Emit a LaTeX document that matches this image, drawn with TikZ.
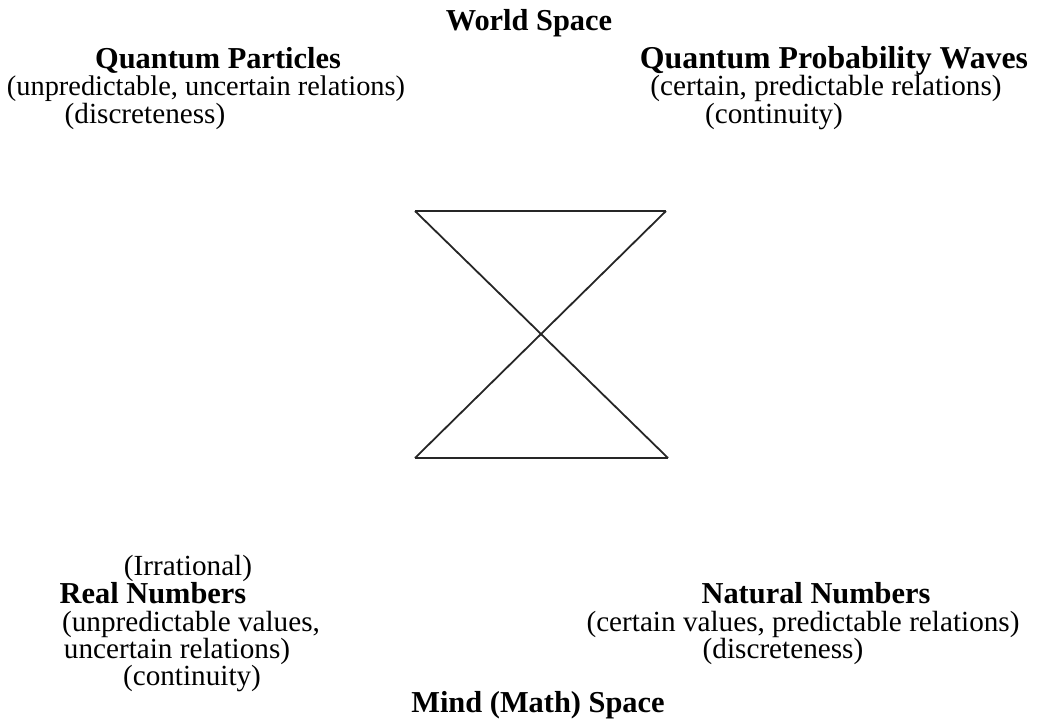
\documentclass[tikz,border=0pt]{standalone}
\usepackage{fontspec}
\setmainfont{Liberation Serif}
\usetikzlibrary{positioning}

\begin{document}
\begin{tikzpicture}[
    x=0.5pt, y=-0.5pt,
    txt/.style={anchor=base, inner sep=0, font=\fontsize{14.6}{17}\selectfont},
    head/.style={txt, font=\fontsize{15.2}{18}\selectfont\bfseries},
    glass/.style={line width=0.9pt, draw=black!85}
]
    \useasboundingbox (0,0) rectangle (1046,719);

    % =========================================================
    % WORLD SPACE (TOP)
    % =========================================================
    \node[head] (world) at (529, 30) {World Space};

    \node[head] (qp) at (218, 68) {Quantum Particles};
    \node[txt, font=\fontsize{14.2}{16}\selectfont] (qpRel) at (206, 95.5) {(unpredictable, uncertain relations)};
    \node[txt] (qpDisc) at (145, 123.5) {(discreteness)};

    \node[head, font=\fontsize{15.9}{18}\selectfont\bfseries] (qw) at (834, 68) {Quantum Probability Waves};
    \node[txt] (qwRel) at (826, 95.5) {(certain, predictable relations)};
    \node[txt] (qwCont) at (774, 123.5) {(continuity)};

    % =========================================================
    % HOURGLASS
    % =========================================================
    \coordinate (tl) at (415, 211);
    \coordinate (tr) at (666, 211);
    \coordinate (bl) at (415, 458);
    \coordinate (br) at (668, 458);

    \draw[glass] (tl) -- (tr);
    \draw[glass] (tl) -- (br);
    \draw[glass] (tr) -- (bl);
    \draw[glass] (bl) -- (br);

    % =========================================================
    % MIND (MATH) SPACE (BOTTOM)
    % =========================================================
    \node[txt] (irr) at (188, 575) {(Irrational)};
    \node[head] (real) at (153, 603.5) {Real Numbers};
    \node[txt] (realVal) at (191, 631) {(unpredictable values,};
    \node[txt] (realRel) at (177, 658.5) {uncertain relations)};
    \node[txt] (realCont) at (192, 685.5) {(continuity)};

    \node[head] (nat) at (816, 603.5) {Natural Numbers};
    \node[txt] (natVal) at (803, 631) {(certain values, predictable relations)};
    \node[txt] (natDisc) at (783, 658.5) {(discreteness)};

    \node[head] (mind) at (538, 712.5) {Mind (Math) Space};

\end{tikzpicture}
\end{document}
